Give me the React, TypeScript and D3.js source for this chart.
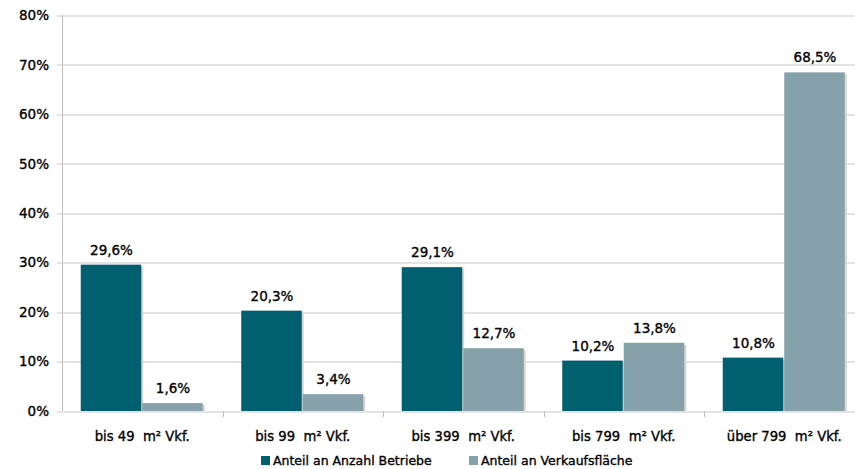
import { useEffect, useRef } from 'react'
import * as d3 from 'd3'

const categories = ['bis 49  m² Vkf.', 'bis 99  m² Vkf.', 'bis 399  m² Vkf.', 'bis 799  m² Vkf.', 'über 799  m² Vkf.']
const seriesNames = ['Anteil an Anzahl Betriebe', 'Anteil an Verkaufsfläche']
const betriebe = [29.6, 20.3, 29.1, 10.2, 10.8]
const flaeche = [1.6, 3.4, 12.7, 13.8, 68.5]
const yTicks = [0, 10, 20, 30, 40, 50, 60, 70, 80]
const colors = ['#00606f', '#87a1ab']

const fmt = (v: number) => v.toFixed(1).replace('.', ',') + '%'

export default function App() {
  const svgRef = useRef<SVGSVGElement>(null)

  useEffect(() => {
    if (!svgRef.current) return
    const width = 855
    const height = 469
    // plot area runs past the right edge of the picture
    const margin = { top: 15.5, right: -9.5, bottom: 58, left: 62 }
    const innerWidth = width - margin.left - margin.right
    const innerHeight = height - margin.top - margin.bottom
    const font = 'DejaVu Sans, sans-serif'

    const svg = d3.select(svgRef.current)
    svg.selectAll('*').remove()

    const x0 = d3.scaleBand<string>().domain(categories).range([0, innerWidth]).paddingInner(0.2336).paddingOuter(0.1168)
    const x1 = d3.scaleBand<number>().domain([0, 1]).range([0, x0.bandwidth()])
    const y = d3.scaleLinear().domain([0, 80]).range([innerHeight, 0])

    const g = svg.append('g').attr('transform', `translate(${margin.left},${margin.top})`)

    const styleText = (sel: any, size: number) =>
      sel
        .attr('font-family', font)
        .attr('font-size', size)
        .attr('fill', '#000')
        .attr('stroke', '#000')
        .attr('stroke-width', 0.35)
        .style('white-space', 'pre')

    // gridlines
    g.selectAll('line.grid')
      .data(yTicks)
      .enter()
      .append('line')
      .attr('x1', -5)
      .attr('x2', innerWidth)
      .attr('y1', (d) => Math.round(y(d)) + 0.5)
      .attr('y2', (d) => Math.round(y(d)) + 0.5)
      .attr('stroke', '#c8c8c8')
      .attr('stroke-width', 1)

    // y labels
    styleText(
      g.selectAll('text.ylab')
        .data(yTicks)
        .enter()
        .append('text')
        .attr('x', -13)
        .attr('y', (d) => y(d))
        .attr('dy', '0.35em')
        .attr('text-anchor', 'end'),
      13.5
    ).text((d: number) => d + '%')

    // y axis line
    g.append('line')
      .attr('x1', 0.5)
      .attr('x2', 0.5)
      .attr('y1', 0)
      .attr('y2', innerHeight)
      .attr('stroke', '#bdbdbd')

    // category separator ticks
    const half = (x0.step() - x0.bandwidth()) / 2
    categories.slice(1).forEach((c) => {
      const sx = Math.round((x0(c) || 0) - half) + 0.5
      g.append('line')
        .attr('x1', sx)
        .attr('x2', sx)
        .attr('y1', innerHeight)
        .attr('y2', innerHeight + 6)
        .attr('stroke', '#bdbdbd')
    })

    const series = [betriebe, flaeche]
    series.forEach((vals, si) => {
      const grp = g.append('g')
      // shadow
      grp
        .selectAll('rect.shadow')
        .data(vals)
        .enter()
        .append('rect')
        .attr('x', (_, i) => (x0(categories[i]) || 0) + (x1(si) || 0) + 2)
        .attr('y', (d) => y(d) + 2)
        .attr('width', x1.bandwidth() - 1)
        .attr('height', (d) => innerHeight - y(d) - 2)
        .attr('fill', '#d6d6d6')
      grp
        .selectAll('rect.bar')
        .data(vals)
        .enter()
        .append('rect')
        .attr('x', (_, i) => (x0(categories[i]) || 0) + (x1(si) || 0))
        .attr('y', (d) => y(d))
        .attr('width', x1.bandwidth() - 1)
        .attr('height', (d) => innerHeight - y(d))
        .attr('fill', colors[si])
      styleText(
        grp
          .selectAll('text.val')
          .data(vals)
          .enter()
          .append('text')
          .attr('x', (_, i) => (x0(categories[i]) || 0) + (x1(si) || 0) + x1.bandwidth() / 2)
          .attr('y', (d) => y(d) - 10)
          .attr('text-anchor', 'middle'),
        13.5
      ).text((d: number) => fmt(d))
    })

    // category labels
    styleText(
      g.selectAll('text.cat')
        .data(categories)
        .enter()
        .append('text')
        .attr('x', (d) => (x0(d) || 0) + x0.bandwidth() / 2)
        .attr('y', innerHeight + 30)
        .attr('text-anchor', 'middle'),
      13.2
    ).text((d: string) => d)

    // legend
    const legendX = [261, 469]
    seriesNames.forEach((name, i) => {
      svg
        .append('rect')
        .attr('x', legendX[i])
        .attr('y', 456)
        .attr('width', 9)
        .attr('height', 9)
        .attr('fill', colors[i])
      styleText(
        svg
          .append('text')
          .attr('x', legendX[i] + 12)
          .attr('y', 461)
          .attr('dy', '0.35em'),
        12.5
      ).text(name)
    })
  }, [])

  return (
    <svg
      ref={svgRef}
      width={855}
      height={469}
      style={{ display: 'block', position: 'absolute', left: 0, top: 0, background: '#fff' }}
    />
  )
}
